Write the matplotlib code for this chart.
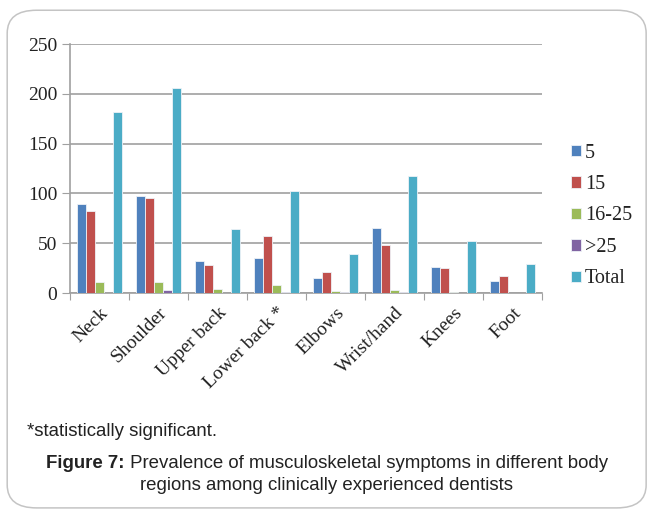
import matplotlib
matplotlib.use("Agg")
import matplotlib.pyplot as plt
import numpy as np
from matplotlib.patches import FancyBboxPatch

categories = ["Neck", "Shoulder", "Upper back", "Lower back *", "Elbows", "Wrist/hand", "Knees", "Foot"]
series_names = ["5", "15", "16-25", ">25", "Total"]
v5 = [89, 97, 32, 35, 15, 65, 26, 12]
v15 = [82, 95, 28, 57, 21, 48, 25, 17]
v16_25 = [11, 11, 4, 8, 2, 3, 1, 0]
v25 = [0, 3, 0, 1, 1, 1, 0, 0]
total = [182, 206, 64, 102, 39, 117, 52, 29]
colors = ["#4F81BD", "#C0504D", "#9BBB59", "#8064A2", "#4BACC6"]
yticks = [0, 50, 100, 150, 200, 250]

fig = plt.figure(figsize=(6.54, 5.12), dpi=100)
border = FancyBboxPatch((0.011, 0.008), 0.977, 0.972, boxstyle="round,pad=0,rounding_size=0.045",
                        transform=fig.transFigure, facecolor="none", edgecolor="#c4c4c4",
                        linewidth=1.1, zorder=10)
fig.patches.append(border)

ax = fig.add_axes([0.107, 0.4277, 0.722, 0.4863])
ax.set_facecolor("none")
serif = "Liberation Serif"
fs = 14

x = np.arange(len(categories))
data = [v5, v15, v16_25, v25, total]
bw = 0.153
for i, (vals, c, n) in enumerate(zip(data, colors, series_names)):
    ax.bar(x + (i - 2) * bw, vals, width=bw, color=c, edgecolor="#eef2f7", linewidth=0.6,
           label=n, zorder=3)

ax.set_xlim(-0.5, len(categories) - 0.5)
ax.set_ylim(0, 250)
ax.set_yticks(yticks)
ax.set_yticklabels([str(t) for t in yticks], fontfamily=serif, fontsize=fs, color="#222222")
ax.yaxis.grid(True, color="#a0a0a0", linewidth=1.2, zorder=0)
ax.set_axisbelow(True)
for s in ["top", "right"]:
    ax.spines[s].set_visible(False)
for s in ["left", "bottom"]:
    ax.spines[s].set_color("#a0a0a0")
    ax.spines[s].set_linewidth(1.2)
ax.tick_params(axis="y", length=6, color="#a0a0a0", pad=3)

ax.set_xticks(np.arange(len(categories) + 1) - 0.5, minor=False)
ax.set_xticklabels([])
ax.tick_params(axis="x", which="major", length=5, color="#a0a0a0")
ax.set_xticks(x, minor=True)
ax.set_xticklabels(categories, minor=True, rotation=45, ha="right", rotation_mode="anchor",
                   fontfamily=serif, fontsize=fs, color="#222222")
ax.tick_params(axis="x", which="minor", length=0, pad=8)

leg = fig.legend(*ax.get_legend_handles_labels(), loc="upper left",
                 bbox_to_anchor=(0.8727, 0.7197), bbox_transform=fig.transFigure,
                 frameon=False, prop={"family": serif, "size": 14.5},
                 handlelength=0.5, handleheight=0.5, handletextpad=0.2,
                 labelspacing=0.62, borderpad=0, borderaxespad=0)
for t in leg.get_texts():
    t.set_color("#222222")

sans = "Liberation Sans"
cfs = 13.4
fig.text(27 / 654, 1 - 431 / 512, "*statistically significant.", fontfamily=sans, fontsize=cfs,
         ha="left", va="center", color="#222222")

renderer = fig.canvas.get_renderer()
y1 = 1 - 464 / 512
t1 = fig.text(0, y1, "Figure 7:", fontfamily=sans, fontsize=cfs, fontweight="bold",
              ha="left", va="center", color="#222222")
t2 = fig.text(0, y1, " Prevalence of musculoskeletal symptoms in different body",
              fontfamily=sans, fontsize=cfs, ha="left", va="center", color="#222222")
w1 = t1.get_window_extent(renderer).width / fig.bbox.width
w2 = t2.get_window_extent(renderer).width / fig.bbox.width
start = 0.5 - (w1 + w2) / 2
t1.set_x(start)
t2.set_x(start + w1)
fig.text(0.5, 1 - 485 / 512, "regions among clinically experienced dentists",
         fontfamily=sans, fontsize=cfs, ha="center", va="center", color="#222222")

fig.savefig("out.png", dpi=100)
